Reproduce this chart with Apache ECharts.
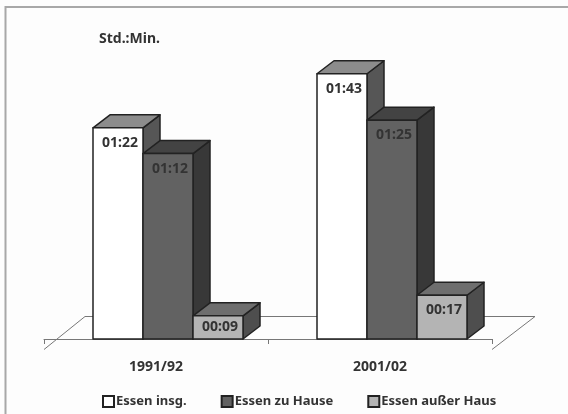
<!DOCTYPE html>
<html>
<head>
<meta charset="utf-8">
<title>Essen</title>
<script src="https://cdn.jsdelivr.net/npm/echarts@6/dist/echarts.min.js"></script>
<style>
html, body { margin: 0; padding: 0; background: #fdfdfd; }
#main { width: 568px; height: 414px; }
</style>
</head>
<body>
<div id="main"></div>
<script type="text/javascript">
// Werte in Minuten
var categories = ['1991/92', '2001/02'];
var essenInsg = [82, 103];
var essenZuHause = [72, 85];
var essenAusserHaus = [9, 17];
var seriesNames = ['Essen insg.', 'Essen zu Hause', 'Essen außer Haus'];

var textFont = '"Noto Sans", "Open Sans", sans-serif';
var textColor = '#333333';
var depthX = 17, depthY = 13;

function hhmm(v) {
    var h = Math.floor(v / 60), m = v % 60;
    return (h < 10 ? '0' : '') + h + ':' + (m < 10 ? '0' : '') + m;
}

// saeule als front + dach + seite
function bar3d(slot, front, top, side) {
    return function (params, api) {
        var base = api.coord([api.value(0), 0]);
        var head = api.coord([api.value(0), api.value(1)]);
        var w = api.size([1, 0])[0] * 50 / 224;
        var x0 = base[0] + 12 + (slot - 1.5) * w;
        var x1 = x0 + w;
        var y0 = head[1], y1 = base[1];
        var line = { stroke: '#222', lineWidth: 1.5, lineJoin: 'round' };
        return {
            type: 'group',
            children: [
                { type: 'polygon', shape: { points: [[x1, y0], [x1 + depthX, y0 - depthY], [x1 + depthX, y1 - depthY], [x1, y1]] },
                  style: Object.assign({ fill: side }, line) },
                { type: 'polygon', shape: { points: [[x0, y0], [x0 + depthX, y0 - depthY], [x1 + depthX, y0 - depthY], [x1, y0]] },
                  style: Object.assign({ fill: top }, line) },
                { type: 'rect', shape: { x: x0, y: y0, width: w, height: y1 - y0 },
                  style: Object.assign({ fill: front }, line) },
                { type: 'text', x: (x0 + x1) / 2 + 2, y: y0 + Math.min(15, (y1 - y0) / 2),
                  style: { text: hhmm(api.value(1)), font: 'bold 14px ' + textFont, fill: textColor, align: 'center', verticalAlign: 'middle' } }
            ]
        };
    };
}

function makeSeries(name, values, slot, front, top, side) {
    return {
        name: name,
        type: 'custom',
        // rechte saeule liegt vorn
        z: 2 + slot,
        renderItem: bar3d(slot, front, top, side),
        itemStyle: { color: front, borderColor: '#222', borderWidth: 1.5 },
        encode: { x: 0, y: 1 },
        data: values.map(function (v, i) { return [i, v]; })
    };
}

var myChart = echarts.init(document.getElementById('main'));
myChart.setOption({
    backgroundColor: '#fdfdfd',
    animation: false,
    title: {
        text: 'Std.:Min.', left: 94, top: 27,
        textStyle: { fontFamily: textFont, fontSize: 14, fontWeight: 'bold', color: textColor }
    },
    legend: {
        data: seriesNames,
        left: 102, top: 395, padding: 0,
        itemWidth: 11, itemHeight: 11, itemGap: 34,
        icon: 'rect',
        textStyle: { fontFamily: textFont, fontSize: 13, fontWeight: 'bold', color: textColor, padding: [0, 0, 0, -3] }
    },
    grid: { left: 44, right: 76, top: 30, height: 309 },
    xAxis: {
        type: 'category',
        data: categories,
        offset: 10,
        axisLine: { lineStyle: { color: '#777', width: 1 } },
        axisTick: { show: true, length: 5, alignWithLabel: false, lineStyle: { color: '#777' } },
        axisLabel: { fontFamily: textFont, fontSize: 14, fontWeight: 'bold', color: textColor, margin: 11 }
    },
    yAxis: { type: 'value', min: 0, max: 120, show: false, splitLine: { show: false } },
    graphic: [
        // rahmen nur oben und links
        { type: 'polyline', z: 0, shape: { points: [[568, 7], [5.5, 7], [5.5, 414]] },
          style: { fill: 'none', stroke: '#a8a8a8', lineWidth: 2 } },
        // bodenflaeche
        { type: 'polyline', z: 0, shape: { points: [[44, 349.5], [85, 316.5], [535, 316.5], [492, 349.5]] },
          style: { fill: 'none', stroke: '#777', lineWidth: 1 } }
    ],
    series: [
        makeSeries(seriesNames[0], essenInsg, 0, '#ffffff', '#8c8c8c', '#565656'),
        makeSeries(seriesNames[1], essenZuHause, 1, '#626262', '#434343', '#383838'),
        makeSeries(seriesNames[2], essenAusserHaus, 2, '#b4b4b4', '#6e6e6e', '#4e4e4e')
    ]
});
</script>
</body>
</html>
